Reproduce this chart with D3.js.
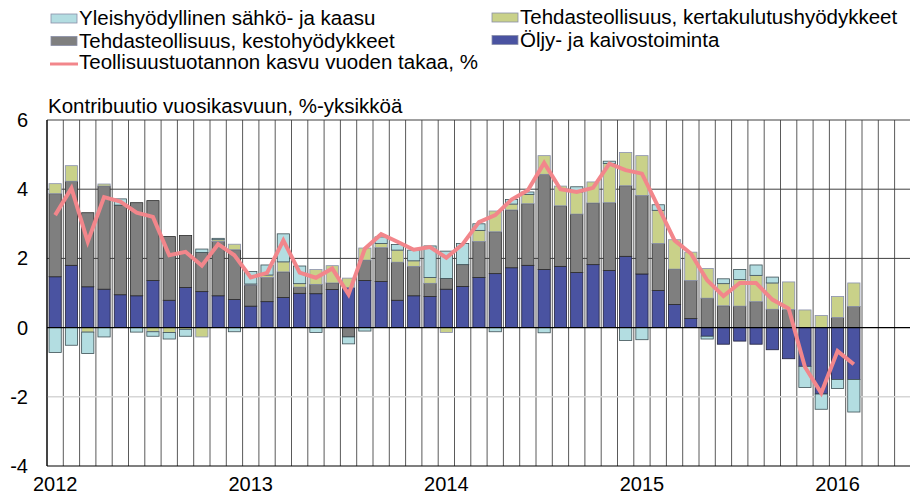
<!DOCTYPE html>
<meta charset="utf-8">
<style>
body { margin: 0; background: #fff; }
text { font-family: Arial, "Liberation Sans", sans-serif; fill: #000; }
</style>
<svg width="910" height="499"></svg>
<script src="https://cdn.jsdelivr.net/npm/d3@7"></script>
<script>

var months = [
  "2012-01","2012-02","2012-03","2012-04","2012-05","2012-06","2012-07","2012-08","2012-09","2012-10","2012-11","2012-12",
  "2013-01","2013-02","2013-03","2013-04","2013-05","2013-06","2013-07","2013-08","2013-09","2013-10","2013-11","2013-12",
  "2014-01","2014-02","2014-03","2014-04","2014-05","2014-06","2014-07","2014-08","2014-09","2014-10","2014-11","2014-12",
  "2015-01","2015-02","2015-03","2015-04","2015-05","2015-06","2015-07","2015-08","2015-09","2015-10","2015-11","2015-12",
  "2016-01","2016-02","2016-03","2016-04","2016-05"
];

var yearTicks = ["2012","2013","2014","2015","2016"];
var yTicks = [-4, -2, 0, 2, 4, 6];

// Öljy- ja kaivostoiminta
var oil = [
  1.47, 1.80, 1.18, 1.11, 0.95, 0.92, 1.36, 0.79, 1.16, 1.04, 0.92, 0.81,
  0.62, 0.75, 0.87, 0.99, 0.98, 1.10, 1.16, 1.36, 1.33, 0.79, 0.92, 0.90,
  1.11, 1.19, 1.45, 1.56, 1.73, 1.80, 1.68, 1.77, 1.59, 1.82, 1.65, 2.06,
  1.55, 1.07, 0.67, 0.26, -0.25, -0.48, -0.39, -0.48, -0.64, -0.90, -1.12, -1.92,
  -1.50, -1.50
];
// Tehdasteollisuus, kestohyödykkeet
var durable = [
  2.40, 2.43, 2.14, 2.98, 2.59, 2.69, 2.31, 1.84, 1.50, 1.13, 1.57, 1.44,
  0.61, 0.70, 0.74, 0.18, 0.27, 0.19, -0.27, 0.59, 0.98, 1.10, 0.85, 0.38,
  0.31, 0.63, 1.04, 1.21, 1.67, 1.78, 2.75, 1.75, 1.69, 1.78, 1.96, 2.04,
  2.27, 1.36, 1.02, 1.10, 0.85, 0.63, 0.62, 0.75, 0.53, 0.52, 0.00, 0.00,
  0.29, 0.61
];
// Tehdasteollisuus, kertakulutushyödykkeet
var nondurable = [
  0.29, 0.45, -0.13, 0.06, 0.00, 0.00, -0.12, -0.14, -0.05, -0.27, 0.05, 0.16,
  0.03, 0.07, 0.29, 0.10, 0.43, 0.50, 0.27, 0.35, 0.12, 0.35, 0.16, 0.17,
  -0.14, 0.00, 0.32, 0.60, 0.17, 0.27, 0.54, 0.57, 0.64, 0.61, 1.13, 0.96,
  1.15, 0.96, 0.85, 0.82, 0.86, 0.64, 0.77, 0.76, 0.76, 0.80, 0.51, 0.35,
  0.61, 0.68
];
// Yleishyödyllinen sähkö- ja kaasu
var utilities = [
  -0.72, -0.51, -0.62, -0.27, 0.18, -0.13, -0.13, -0.19, -0.20, 0.10, 0.04, -0.12,
  0.36, 0.29, 0.81, 0.51, -0.14, 0.00, -0.20, -0.10, 0.19, 0.16, 0.31, 0.91,
  0.79, 0.61, 0.19, -0.12, 0.13, 0.07, -0.15, 0.00, 0.15, 0.00, 0.07, -0.37,
  -0.35, 0.16, 0.00, 0.00, -0.08, 0.14, 0.29, 0.30, 0.17, 0.00, -0.61, -0.44,
  -0.26, -0.94
];
// Teollisuustuotannon kasvu vuoden takaa, %
var growth = [
  3.25, 4.03, 2.48, 3.77, 3.64, 3.32, 3.20, 2.09, 2.19, 1.79, 2.41, 2.09,
  1.45, 1.58, 2.52, 1.59, 1.44, 1.71, 0.96, 2.28, 2.70, 2.48, 2.25, 2.33,
  2.02, 2.41, 3.05, 3.25, 3.70, 3.97, 4.76, 4.00, 3.92, 4.04, 4.74, 4.55,
  4.45, 3.49, 2.52, 2.14, 1.37, 0.91, 1.29, 1.29, 0.81, 0.55, -1.14, -1.89,
  -0.68, -1.06
];

var keys = ["oil", "durable", "nondurable", "utilities"];
var colors = { oil: "#4a53a1", durable: "#7f7f7f", nondurable: "#c9d189", utilities: "#b3dde1" };
var strokes = { oil: "#1f1f3a", durable: "#2a2a2a", nondurable: "#8a91b0", utilities: "#3e5055" };

var table = growth.map(function(g, i) {
  return { month: months[i], oil: oil[i], durable: durable[i], nondurable: nondurable[i], utilities: utilities[i], growth: g };
});

var svg = d3.select("svg");
var plotLeft = 47, step = 16.3, plotTop = 120, plotBottom = 466;

var x = d3.scaleBand()
    .domain(months)
    .range([plotLeft, plotLeft + step * months.length])
    .paddingInner(0.25)
    .paddingOuter(0.125);

var y = d3.scaleLinear().domain([-4, 6]).range([plotBottom, plotTop]);

var series = d3.stack().keys(keys).offset(d3.stackOffsetDiverging)(table);

// vertical month grid
svg.append("g")
  .selectAll("line")
  .data(months.concat(["end"]))
  .enter().append("line")
    .attr("x1", function(d, i) { return plotLeft + i * x.step(); })
    .attr("x2", function(d, i) { return plotLeft + i * x.step(); })
    .attr("y1", plotTop)
    .attr("y2", plotBottom)
    .attr("stroke", "#5a5a5a")
    .attr("stroke-width", 1);

// horizontal grid
svg.append("g")
  .selectAll("line")
  .data([-2, 2, 4, 6])
  .enter().append("line")
    .attr("x1", plotLeft)
    .attr("x2", 910)
    .attr("y1", function(d) { return y(d); })
    .attr("y2", function(d) { return y(d); })
    .attr("stroke", function(d) { return d < 0 ? "#d6d6d6" : "#404040"; })
    .attr("stroke-width", function(d) { return d < 0 ? 1.5 : 1; });

// bars
svg.append("g")
  .selectAll("g")
  .data(series)
  .enter().append("g")
    .attr("fill", function(s) { return colors[s.key]; })
    .attr("stroke", function(s) { return strokes[s.key]; })
    .attr("stroke-width", 0.8)
  .selectAll("rect")
  .data(function(s) { return s.filter(function(d) { return d[1] - d[0] !== 0; }); })
  .enter().append("rect")
    .attr("x", function(d) { return x(d.data.month); })
    .attr("width", x.bandwidth())
    .attr("y", function(d) { return y(Math.max(d[0], d[1])); })
    .attr("height", function(d) { return Math.abs(y(d[0]) - y(d[1])); });

// zero line and axes
svg.append("line")
    .attr("x1", plotLeft).attr("x2", 910)
    .attr("y1", y(0)).attr("y2", y(0))
    .attr("stroke", "#000").attr("stroke-width", 1.2);
svg.append("line")
    .attr("x1", plotLeft).attr("x2", 910)
    .attr("y1", plotBottom).attr("y2", plotBottom)
    .attr("stroke", "#000").attr("stroke-width", 1.2);
svg.append("line")
    .attr("x1", plotLeft).attr("x2", plotLeft)
    .attr("y1", plotTop).attr("y2", plotBottom)
    .attr("stroke", "#000").attr("stroke-width", 1.2);

// growth line
var line = d3.line()
    .x(function(d) { return x(d.month) + x.bandwidth() / 2; })
    .y(function(d) { return y(d.growth); });

svg.append("path")
    .datum(table)
    .attr("d", line)
    .attr("fill", "none")
    .attr("stroke", "#f2868b")
    .attr("stroke-width", 4)
    .attr("stroke-linejoin", "miter");

// y tick labels
svg.append("g")
  .selectAll("text")
  .data(yTicks)
  .enter().append("text")
    .attr("x", 28)
    .attr("y", function(d) { return y(d); })
    .attr("dy", "0.35em")
    .attr("text-anchor", "end")
    .style("font-size", "20px")
    .text(function(d) { return d; });

// year labels under January bars
svg.append("g")
  .selectAll("text")
  .data(yearTicks)
  .enter().append("text")
    .attr("x", function(d) { return x(d + "-01") + x.bandwidth() / 2; })
    .attr("y", 491)
    .attr("text-anchor", "middle")
    .style("font-size", "20px")
    .text(function(d) { return d; });

svg.append("text")
    .attr("x", 48)
    .attr("y", 113)
    .style("font-size", "20.5px")
    .text("Kontribuutio vuosikasvuun, %-yksikköä");

// legend
var legend = [
  { label: "Yleishyödyllinen sähkö- ja kaasu", key: "utilities", lx: 51, ly: 25 },
  { label: "Tehdasteollisuus, kestohyödykkeet", key: "durable", lx: 51, ly: 47.5 },
  { label: "Teollisuustuotannon kasvu vuoden takaa, %", key: "line", lx: 51, ly: 69 },
  { label: "Tehdasteollisuus, kertakulutushyödykkeet", key: "nondurable", lx: 492, ly: 24 },
  { label: "Öljy- ja kaivostoiminta", key: "oil", lx: 492, ly: 46.5 }
];

var lg = svg.append("g").selectAll("g").data(legend).enter().append("g");

lg.filter(function(d) { return d.key !== "line"; })
  .append("rect")
    .attr("x", function(d) { return d.lx; })
    .attr("y", function(d) { return d.ly - 11; })
    .attr("width", 26)
    .attr("height", 9)
    .attr("fill", function(d) { return colors[d.key]; })
    .attr("stroke", "#8a8fa8")
    .attr("stroke-width", 0.8);

lg.filter(function(d) { return d.key === "line"; })
  .append("line")
    .attr("x1", function(d) { return d.lx - 1; })
    .attr("x2", function(d) { return d.lx + 27; })
    .attr("y1", function(d) { return d.ly - 5; })
    .attr("y2", function(d) { return d.ly - 5; })
    .attr("stroke", "#f2868b")
    .attr("stroke-width", 3);

lg.append("text")
    .attr("x", function(d) { return d.lx + 28; })
    .attr("y", function(d) { return d.ly; })
    .style("font-size", "20.5px")
    .text(function(d) { return d.label; });

</script>
